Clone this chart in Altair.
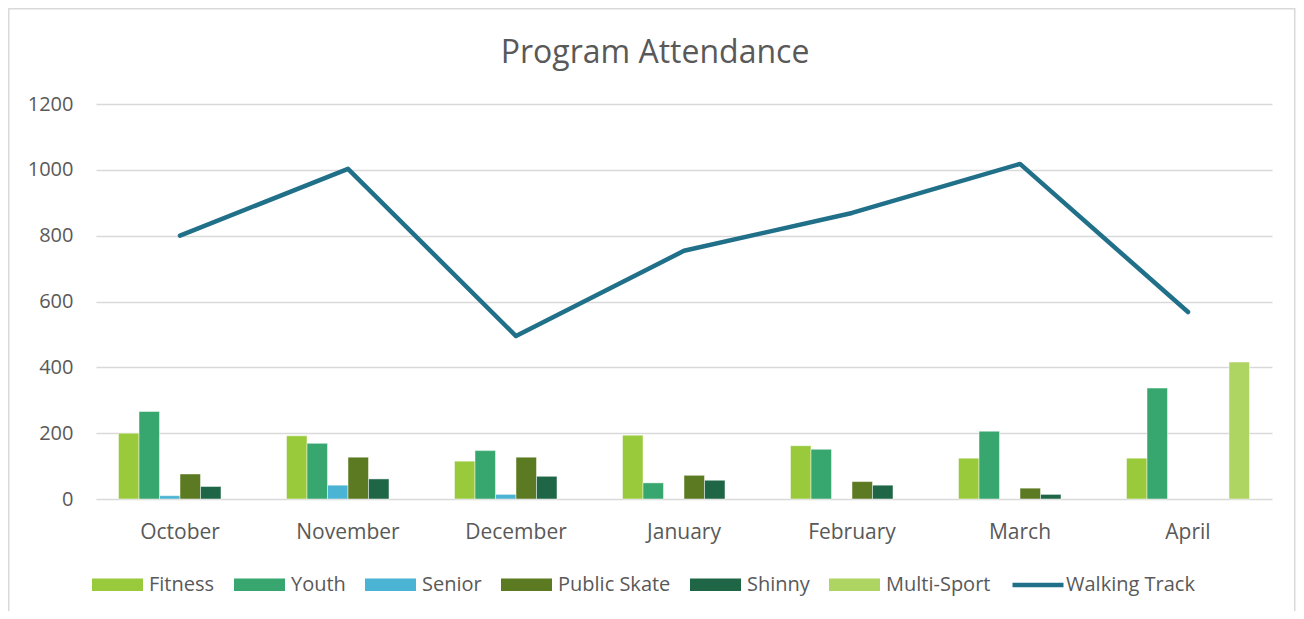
import altair as alt
import pandas as pd

months = ["October", "November", "December", "January", "February", "March", "April"]
bar_series = ["Fitness", "Youth", "Senior", "Public Skate", "Shinny", "Multi-Sport"]
fitness = [200, 192, 115, 194, 162, 124, 124]
youth = [266, 169, 147, 49, 151, 206, 337]
senior = [10, 42, 14, 0, 0, 0, 0]
public_skate = [76, 127, 127, 72, 53, 33, 0]
shinny = [38, 61, 69, 57, 42, 14, 0]
multi_sport = [0, 0, 0, 0, 0, 0, 416]
walking_track = [800, 1003, 495, 754, 869, 1018, 568]
y_ticks = [0, 200, 400, 600, 800, 1000, 1200]

bar_colors = ["#99CA3C", "#37A76F", "#4BB3D3", "#5B7A21", "#1F6647", "#AED462"]
line_color = "#21708A"
FONT = "Open Sans"
TXT = "#595959"
GRID = "#d9d9d9"

rows = []
for s, vals in zip(bar_series, [fitness, youth, senior, public_skate, shinny, multi_sport]):
    for m, v in zip(months, vals):
        if v > 0:
            rows.append({"month": m, "series": s, "value": v})
bars_df = pd.DataFrame(rows)
line_df = pd.DataFrame({"month": months, "series": ["Walking Track"] * len(months), "value": walking_track})

x_enc = alt.X(
    "month:N", sort=months,
    scale=alt.Scale(domain=months, paddingInner=0.268, paddingOuter=0.134),
    axis=alt.Axis(title=None, labelAngle=0, domain=False, ticks=False, tickSize=0,
                  labelPadding=22, labelFontSize=21, labelColor=TXT, labelFont=FONT, grid=False),
)
y_enc = alt.Y(
    "value:Q",
    scale=alt.Scale(domain=[0, 1200], nice=False),
    axis=alt.Axis(title=None, values=y_ticks, format="d", domain=False, ticks=False, tickSize=0,
                  labelPadding=23, grid=True, gridColor=GRID, gridWidth=1.4,
                  labelFontSize=20, labelColor=TXT, labelFont=FONT),
)

bars = alt.Chart(bars_df).mark_bar(stroke="white", strokeWidth=0.8, strokeOpacity=0.6).encode(
    x=x_enc,
    xOffset=alt.XOffset("series:N", sort=bar_series,
                        scale=alt.Scale(domain=bar_series, paddingInner=0, paddingOuter=0)),
    y=y_enc,
    color=alt.Color(
        "series:N",
        scale=alt.Scale(domain=bar_series, range=bar_colors),
        legend=alt.Legend(
            title=None, orient="none", legendX=-4, legendY=455, direction="horizontal",
            columns=6, symbolType="M-1,-0.245H1V0.245H-1Z", symbolSize=2601,
            symbolStrokeWidth=0, labelFontSize=20, labelFont=FONT, labelColor=TXT,
            labelOffset=6, columnPadding=19, padding=0, labelLimit=400,
        ),
    ),
)

line = alt.Chart(line_df).mark_line(strokeWidth=4.5, strokeCap="round", strokeJoin="round").encode(
    x=x_enc,
    y=y_enc,
    stroke=alt.Stroke(
        "series:N",
        scale=alt.Scale(domain=["Walking Track"], range=[line_color]),
        legend=alt.Legend(
            title=None, orient="none", legendX=914, legendY=453, direction="horizontal",
            symbolType="stroke", symbolSize=2601, symbolStrokeWidth=4.5,
            labelFontSize=20, labelFont=FONT, labelColor=TXT, labelOffset=0,
            padding=0, labelLimit=400,
        ),
    ),
)

frame = alt.Chart(pd.DataFrame({"k": [0]})).mark_rect(
    fill=None, stroke=GRID, strokeWidth=1.5
).encode(
    x=alt.value(-87.25), x2=alt.value(1198.75), y=alt.value(-95.25), y2=alt.value(510)
)

chart = alt.layer(frame, bars, line).properties(
    width=1176,
    height=395,
    padding={"left": 88, "top": 96, "right": 24, "bottom": 112},
    autosize=alt.AutoSizeParams(type="none"),
    title=alt.TitleParams("Program Attendance", fontSize=32, font=FONT, color=TXT,
                          fontWeight="normal", anchor="middle", dx=-29, offset=-62),
).configure_view(stroke=None)

chart.save("out.html", embed_options={"renderer": "svg", "actions": False})
